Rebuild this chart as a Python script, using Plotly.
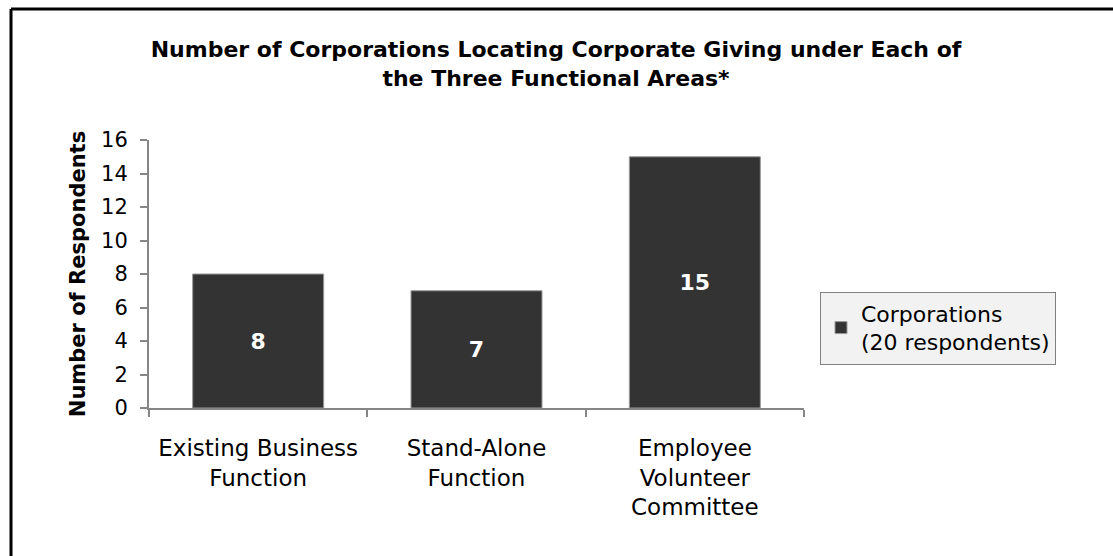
import plotly.graph_objects as go

categories = ["Existing Business<br>Function", "Stand-Alone<br>Function", "Employee<br>Volunteer<br>Committee"]
values = [8, 7, 15]
series_name = "Corporations<br>(20 respondents)"
title_text = "<b>Number of Corporations Locating Corporate Giving under Each of<br>the Three Functional Areas*</b>"
y_title = "<b>Number of Respondents</b>"
y_ticks = [0, 2, 4, 6, 8, 10, 12, 14, 16]

W, H = 1113, 556
L, R, T, B = 149, 309, 140, 148
pw, ph = W - L - R, H - T - B

def px_x(p):
    return (p - L) / pw

def px_y(p):
    return (H - B - p) / ph

FONT = "DejaVu Sans"

fig = go.Figure()
fig.add_trace(go.Bar(
    x=categories, y=values, name=series_name,
    marker=dict(color="#333333", line=dict(color="#9a9a9a", width=1)),
    text=[str(v) for v in values], textposition="inside", insidetextanchor="middle",
    textfont=dict(color="white", size=22, family=FONT),
    texttemplate="<b>%{text}</b>",
    showlegend=True,
))

fig.update_layout(
    width=W, height=H,
    margin=dict(l=L, r=R, t=T, b=B),
    paper_bgcolor="white", plot_bgcolor="white",
    bargap=0.4,
    font=dict(family=FONT, color="#000000"),
    title=dict(text=title_text, x=(556) / W, xanchor="center", y=1 - 57 / H, yanchor="middle",
               font=dict(size=22, family=FONT, color="black")),
    xaxis=dict(showline=True, linecolor="#868686", linewidth=2, ticks="outside", tickson="boundaries",
               ticklen=7, tickcolor="#868686", tickwidth=2, tickfont=dict(size=23, family=FONT, color="black"),
               ticklabelstandoff=18, showgrid=False),
    yaxis=dict(range=[0, 16], tickvals=y_ticks, showline=True, linecolor="#868686", linewidth=2,
               ticks="outside", ticklen=7, tickcolor="#868686", tickwidth=2, ticklabelstandoff=8,
               tickfont=dict(size=21, family=FONT, color="black"), showgrid=False, zeroline=False,
               title=dict(text=y_title, font=dict(size=21, family=FONT, color="black"), standoff=10)),
    legend=dict(x=px_x(820), xanchor="left", y=px_y(328), yanchor="middle",
                bgcolor="#f2f2f2", bordercolor="#808080", borderwidth=1,
                font=dict(size=22, family=FONT, color="black"), itemwidth=30),
    shapes=[
        dict(type="line", xref="paper", yref="paper", x0=px_x(11), x1=px_x(1130), y0=px_y(9), y1=px_y(9),
             line=dict(color="black", width=3)),
        dict(type="line", xref="paper", yref="paper", x0=px_x(11), x1=px_x(11), y0=px_y(9), y1=px_y(580),
             line=dict(color="black", width=3)),
    ],
)

fig.write_html("out.html")
